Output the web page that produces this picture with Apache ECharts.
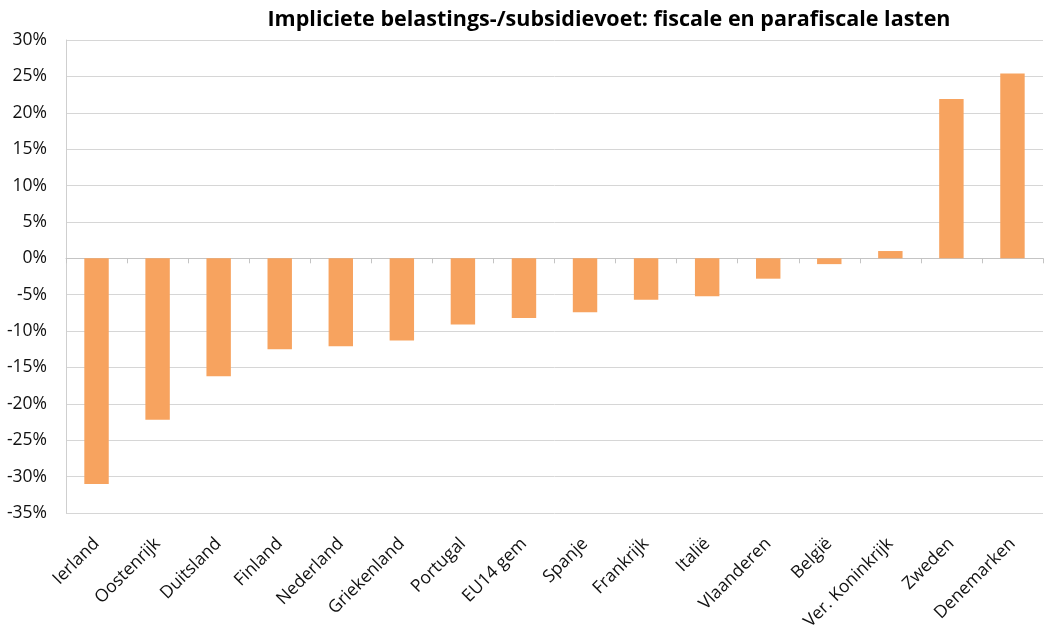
<!DOCTYPE html>
<html>
<head>
<meta charset="utf-8">
<script src="https://cdn.jsdelivr.net/npm/echarts@6/dist/echarts.min.js"></script>
<style>
html,body{margin:0;padding:0;background:#fff;}
#chart{width:1049px;height:629px;}
</style>
</head>
<body>
<div id="chart"></div>
<script>
const categories = ['Ierland','Oostenrijk','Duitsland','Finland','Nederland','Griekenland','Portugal','EU14 gem','Spanje','Frankrijk','Italië','Vlaanderen','België','Ver. Koninkrijk','Zweden','Denemarken'];
const values = [-31.0,-22.2,-16.2,-12.5,-12.1,-11.3,-9.1,-8.2,-7.4,-5.7,-5.2,-2.8,-0.8,1.0,21.9,25.4];
const titleText = 'Impliciete belastings-/subsidievoet: fiscale en parafiscale lasten';

const chart = echarts.init(document.getElementById('chart'));
chart.setOption({
  animation: false,
  backgroundColor: '#fff',
  title: {
    text: titleText,
    left: 604,
    textAlign: 'center',
    top: 4,
    textStyle: {fontFamily: 'Open Sans', fontWeight: 'bold', fontSize: 21.5, color: '#000'}
  },
  grid: {left: 66, right: 6, top: 40, bottom: 116, containLabel: false, outerBoundsMode: 'none'},
  xAxis: {
    type: 'category',
    data: categories,
    axisLine: {onZero: true, lineStyle: {color: '#c4c4c4', width: 1}},
    axisTick: {show: true, length: 5, lineStyle: {color: '#c4c4c4'}},
    axisLabel: {rotate: 45, interval: 0, fontFamily: 'Open Sans', fontSize: 17.5, color: '#111', margin: 28}
  },
  yAxis: {
    type: 'value',
    min: -35, max: 30, interval: 5,
    axisLine: {show: true, lineStyle: {color: '#cfcfcf'}},
    axisTick: {show: false},
    splitLine: {lineStyle: {color: '#d6d6d6', width: 1}},
    axisLabel: {formatter: v => v + '%', fontFamily: 'Open Sans', fontSize: 17.5, color: '#111', margin: 19}
  },
  series: [{
    type: 'bar',
    data: values,
    barWidth: '40%',
    itemStyle: {color: '#F7A35F'}
  }]
});
</script>
</body>
</html>
